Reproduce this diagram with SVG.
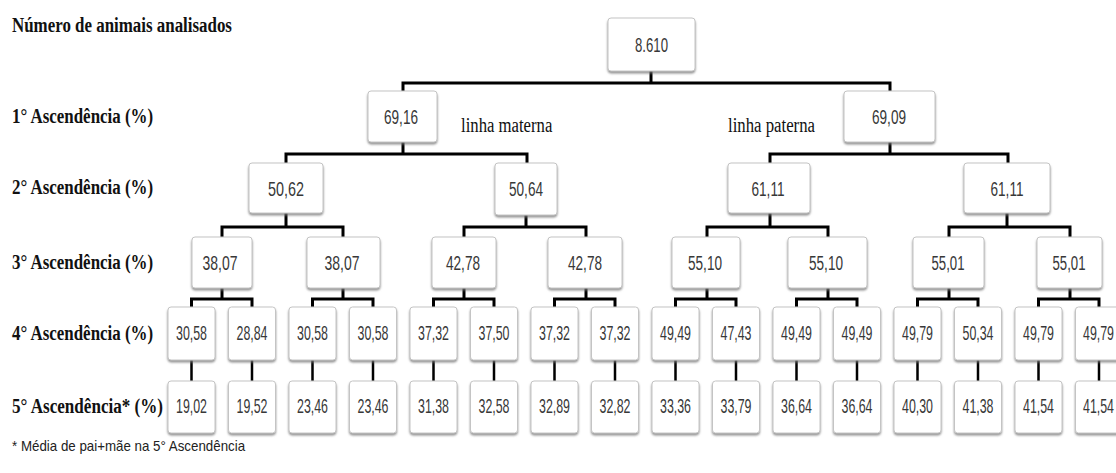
<svg xmlns="http://www.w3.org/2000/svg" width="1116" height="473" viewBox="0 0 1116 473">
<style>
.box{fill:#fff;stroke:#c4c4c4;stroke-width:1;filter:url(#sh)}
.num{font-family:"Liberation Sans",Arial,sans-serif;fill:#383838;text-anchor:middle;font-size:20px}
.lbl{font-family:"Liberation Serif","Times New Roman",serif;font-weight:bold;fill:#111;font-size:21px}
.line{font-family:"Liberation Serif","Times New Roman",serif;fill:#111;font-size:20px}
.note{font-family:"Liberation Sans",Arial,sans-serif;fill:#222;font-size:15px}
.c{stroke:#000;stroke-width:3;fill:none;stroke-linejoin:miter;stroke-linecap:square}
.c5{stroke:#000;stroke-width:2.5;fill:none}
</style>
<defs>
<filter id="sh" x="-20%" y="-20%" width="140%" height="150%">
<feDropShadow dx="0" dy="2" stdDeviation="1.3" flood-color="#777" flood-opacity="0.8"/>
</filter>
</defs>
<rect width="1116" height="473" fill="#fff"/>

<g id="labels">
<text class="lbl" transform="translate(12 32) scale(0.83 1)" textLength="265" lengthAdjust="spacingAndGlyphs">Número de animais analisados</text>
<text class="lbl" transform="translate(12 123) scale(0.83 1)" textLength="170" lengthAdjust="spacingAndGlyphs">1° Ascendência (%)</text>
<text class="lbl" transform="translate(12 194) scale(0.83 1)" textLength="170" lengthAdjust="spacingAndGlyphs">2° Ascendência (%)</text>
<text class="lbl" transform="translate(12 269) scale(0.83 1)" textLength="170" lengthAdjust="spacingAndGlyphs">3° Ascendência (%)</text>
<text class="lbl" transform="translate(12 340) scale(0.83 1)" textLength="170" lengthAdjust="spacingAndGlyphs">4° Ascendência (%)</text>
<text class="lbl" transform="translate(12 413) scale(0.83 1)" textLength="182" lengthAdjust="spacingAndGlyphs">5° Ascendência* (%)</text>
<text class="line" transform="translate(461 132) scale(0.87 1)" textLength="105" lengthAdjust="spacingAndGlyphs">linha materna</text>
<text class="line" transform="translate(728 132) scale(0.87 1)" textLength="100" lengthAdjust="spacingAndGlyphs">linha paterna</text>
<text class="note" transform="translate(12 451) scale(0.9 1)" textLength="259" lengthAdjust="spacingAndGlyphs">* Média de pai+mãe na 5° Ascendência</text>
</g>

<g id="connectors">
<path class="c" d="M651 71V83M403 91V83H890V91"/>
<path class="c" d="M403 142V154M286 163V154H527V163"/>
<path class="c" d="M890 142V154M770 163V154H1008V163"/>
<path class="c" d="M286 213V227M222 237V227H343V237"/>
<path class="c" d="M526 215V227M464 237V227H586V237"/>
<path class="c" d="M770 213V227M707 237V227H828V237"/>
<path class="c" d="M1007 213V227M949 237V227H1070V237"/>
<path class="c" d="M222 288V299M191.5 307V299H252V307"/>
<path class="c" d="M343 288V299M312.5 307V299H373V307"/>
<path class="c" d="M464 288V299M433.5 307V299H494V307"/>
<path class="c" d="M586 288V299M554.5 307V299H615V307"/>
<path class="c" d="M707 288V299M675.5 307V299H736V307"/>
<path class="c" d="M828 288V299M796.5 307V299H857V307"/>
<path class="c" d="M949 288V299M917.5 307V299H978V307"/>
<path class="c" d="M1070 288V299M1038.5 307V299H1099V307"/>
<path class="c5" d="M191.5 360V381M252 360V381M312.5 360V381M373 360V381M433.5 360V381M494 360V381M554.5 360V381M615 360V381M675.5 360V381M736 360V381M796.5 360V381M857 360V381M917.5 360V381M978 360V381M1038.5 360V381M1099 360V381"/>
</g>

<g id="n-root"><rect class="box" x="608" y="18" width="87" height="53" rx="3"/><text class="num" transform="translate(651.5 52) scale(0.66 1)" textLength="50" lengthAdjust="spacingAndGlyphs">8.610</text></g>

<g id="n-1a"><rect class="box" x="368" y="91" width="69" height="51" rx="3"/><text class="num" transform="translate(401 124) scale(0.68 1)" textLength="50" lengthAdjust="spacingAndGlyphs">69,16</text></g>
<g id="n-1b"><rect class="box" x="844" y="91" width="91" height="51" rx="3"/><text class="num" transform="translate(889 124) scale(0.68 1)" textLength="50" lengthAdjust="spacingAndGlyphs">69,09</text></g>

<g id="n-2a"><rect class="box" x="249" y="163" width="74" height="50" rx="3"/><text class="num" transform="translate(286 196) scale(0.72 1)" textLength="50" lengthAdjust="spacingAndGlyphs">50,62</text></g>
<g id="n-2b"><rect class="box" x="495" y="163" width="62" height="52" rx="3"/><text class="num" transform="translate(526 196) scale(0.68 1)" textLength="50" lengthAdjust="spacingAndGlyphs">50,64</text></g>
<g id="n-2c"><rect class="box" x="728" y="163" width="82" height="50" rx="3"/><text class="num" transform="translate(768 196) scale(0.66 1)" textLength="50" lengthAdjust="spacingAndGlyphs">61,11</text></g>
<g id="n-2d"><rect class="box" x="964" y="163" width="86" height="50" rx="3"/><text class="num" transform="translate(1007 196) scale(0.66 1)" textLength="50" lengthAdjust="spacingAndGlyphs">61,11</text></g>

<g id="n-3a"><rect class="box" x="192" y="237" width="60" height="51" rx="3"/><text class="num" transform="translate(220 270) scale(0.7 1)" textLength="50" lengthAdjust="spacingAndGlyphs">38,07</text></g>
<g id="n-3b"><rect class="box" x="307" y="237" width="73" height="51" rx="3"/><text class="num" transform="translate(342 270) scale(0.7 1)" textLength="50" lengthAdjust="spacingAndGlyphs">38,07</text></g>
<g id="n-3c"><rect class="box" x="432" y="237" width="64" height="51" rx="3"/><text class="num" transform="translate(463 270) scale(0.68 1)" textLength="50" lengthAdjust="spacingAndGlyphs">42,78</text></g>
<g id="n-3d"><rect class="box" x="548" y="237" width="74" height="51" rx="3"/><text class="num" transform="translate(585 270) scale(0.68 1)" textLength="50" lengthAdjust="spacingAndGlyphs">42,78</text></g>
<g id="n-3e"><rect class="box" x="672" y="237" width="68" height="51" rx="3"/><text class="num" transform="translate(705 270) scale(0.68 1)" textLength="50" lengthAdjust="spacingAndGlyphs">55,10</text></g>
<g id="n-3f"><rect class="box" x="788" y="237" width="79" height="51" rx="3"/><text class="num" transform="translate(826 270) scale(0.68 1)" textLength="50" lengthAdjust="spacingAndGlyphs">55,10</text></g>
<g id="n-3g"><rect class="box" x="913" y="237" width="71" height="51" rx="3"/><text class="num" transform="translate(948 270) scale(0.66 1)" textLength="50" lengthAdjust="spacingAndGlyphs">55,01</text></g>
<g id="n-3h"><rect class="box" x="1037" y="237" width="65" height="51" rx="3"/><text class="num" transform="translate(1069 270) scale(0.66 1)" textLength="50" lengthAdjust="spacingAndGlyphs">55,01</text></g>

<g id="n-4-1"><rect class="box" x="168" y="307" width="47" height="53" rx="3"/><text class="num" transform="translate(191.5 340) scale(0.62 1)" textLength="50" lengthAdjust="spacingAndGlyphs">30,58</text></g>
<g id="n-4-2"><rect class="box" x="228.5" y="307" width="47" height="53" rx="3"/><text class="num" transform="translate(252 340) scale(0.62 1)" textLength="50" lengthAdjust="spacingAndGlyphs">28,84</text></g>
<g id="n-4-3"><rect class="box" x="289" y="307" width="47" height="53" rx="3"/><text class="num" transform="translate(312.5 340) scale(0.62 1)" textLength="50" lengthAdjust="spacingAndGlyphs">30,58</text></g>
<g id="n-4-4"><rect class="box" x="349.5" y="307" width="47" height="53" rx="3"/><text class="num" transform="translate(373 340) scale(0.62 1)" textLength="50" lengthAdjust="spacingAndGlyphs">30,58</text></g>
<g id="n-4-5"><rect class="box" x="410" y="307" width="47" height="53" rx="3"/><text class="num" transform="translate(433.5 340) scale(0.62 1)" textLength="50" lengthAdjust="spacingAndGlyphs">37,32</text></g>
<g id="n-4-6"><rect class="box" x="470.5" y="307" width="47" height="53" rx="3"/><text class="num" transform="translate(494 340) scale(0.62 1)" textLength="50" lengthAdjust="spacingAndGlyphs">37,50</text></g>
<g id="n-4-7"><rect class="box" x="531" y="307" width="47" height="53" rx="3"/><text class="num" transform="translate(554.5 340) scale(0.62 1)" textLength="50" lengthAdjust="spacingAndGlyphs">37,32</text></g>
<g id="n-4-8"><rect class="box" x="591.5" y="307" width="47" height="53" rx="3"/><text class="num" transform="translate(615 340) scale(0.62 1)" textLength="50" lengthAdjust="spacingAndGlyphs">37,32</text></g>
<g id="n-4-9"><rect class="box" x="652" y="307" width="47" height="53" rx="3"/><text class="num" transform="translate(675.5 340) scale(0.62 1)" textLength="50" lengthAdjust="spacingAndGlyphs">49,49</text></g>
<g id="n-4-10"><rect class="box" x="712.5" y="307" width="47" height="53" rx="3"/><text class="num" transform="translate(736 340) scale(0.62 1)" textLength="50" lengthAdjust="spacingAndGlyphs">47,43</text></g>
<g id="n-4-11"><rect class="box" x="773" y="307" width="47" height="53" rx="3"/><text class="num" transform="translate(796.5 340) scale(0.62 1)" textLength="50" lengthAdjust="spacingAndGlyphs">49,49</text></g>
<g id="n-4-12"><rect class="box" x="833.5" y="307" width="47" height="53" rx="3"/><text class="num" transform="translate(857 340) scale(0.62 1)" textLength="50" lengthAdjust="spacingAndGlyphs">49,49</text></g>
<g id="n-4-13"><rect class="box" x="894" y="307" width="47" height="53" rx="3"/><text class="num" transform="translate(917.5 340) scale(0.62 1)" textLength="50" lengthAdjust="spacingAndGlyphs">49,79</text></g>
<g id="n-4-14"><rect class="box" x="954.5" y="307" width="47" height="53" rx="3"/><text class="num" transform="translate(978 340) scale(0.62 1)" textLength="50" lengthAdjust="spacingAndGlyphs">50,34</text></g>
<g id="n-4-15"><rect class="box" x="1015" y="307" width="47" height="53" rx="3"/><text class="num" transform="translate(1038.5 340) scale(0.62 1)" textLength="50" lengthAdjust="spacingAndGlyphs">49,79</text></g>
<g id="n-4-16"><rect class="box" x="1075.5" y="307" width="47" height="53" rx="3"/><text class="num" transform="translate(1098.5 340) scale(0.62 1)" textLength="50" lengthAdjust="spacingAndGlyphs">49,79</text></g>

<g id="n-5-1"><rect class="box" x="168" y="381" width="47" height="52" rx="3"/><text class="num" transform="translate(191.5 413) scale(0.62 1)" textLength="50" lengthAdjust="spacingAndGlyphs">19,02</text></g>
<g id="n-5-2"><rect class="box" x="228.5" y="381" width="47" height="52" rx="3"/><text class="num" transform="translate(252 413) scale(0.62 1)" textLength="50" lengthAdjust="spacingAndGlyphs">19,52</text></g>
<g id="n-5-3"><rect class="box" x="289" y="381" width="47" height="52" rx="3"/><text class="num" transform="translate(312.5 413) scale(0.62 1)" textLength="50" lengthAdjust="spacingAndGlyphs">23,46</text></g>
<g id="n-5-4"><rect class="box" x="349.5" y="381" width="47" height="52" rx="3"/><text class="num" transform="translate(373 413) scale(0.62 1)" textLength="50" lengthAdjust="spacingAndGlyphs">23,46</text></g>
<g id="n-5-5"><rect class="box" x="410" y="381" width="47" height="52" rx="3"/><text class="num" transform="translate(433.5 413) scale(0.62 1)" textLength="50" lengthAdjust="spacingAndGlyphs">31,38</text></g>
<g id="n-5-6"><rect class="box" x="470.5" y="381" width="47" height="52" rx="3"/><text class="num" transform="translate(494 413) scale(0.62 1)" textLength="50" lengthAdjust="spacingAndGlyphs">32,58</text></g>
<g id="n-5-7"><rect class="box" x="531" y="381" width="47" height="52" rx="3"/><text class="num" transform="translate(554.5 413) scale(0.62 1)" textLength="50" lengthAdjust="spacingAndGlyphs">32,89</text></g>
<g id="n-5-8"><rect class="box" x="591.5" y="381" width="47" height="52" rx="3"/><text class="num" transform="translate(615 413) scale(0.62 1)" textLength="50" lengthAdjust="spacingAndGlyphs">32,82</text></g>
<g id="n-5-9"><rect class="box" x="652" y="381" width="47" height="52" rx="3"/><text class="num" transform="translate(675.5 413) scale(0.62 1)" textLength="50" lengthAdjust="spacingAndGlyphs">33,36</text></g>
<g id="n-5-10"><rect class="box" x="712.5" y="381" width="47" height="52" rx="3"/><text class="num" transform="translate(736 413) scale(0.62 1)" textLength="50" lengthAdjust="spacingAndGlyphs">33,79</text></g>
<g id="n-5-11"><rect class="box" x="773" y="381" width="47" height="52" rx="3"/><text class="num" transform="translate(796.5 413) scale(0.62 1)" textLength="50" lengthAdjust="spacingAndGlyphs">36,64</text></g>
<g id="n-5-12"><rect class="box" x="833.5" y="381" width="47" height="52" rx="3"/><text class="num" transform="translate(857 413) scale(0.62 1)" textLength="50" lengthAdjust="spacingAndGlyphs">36,64</text></g>
<g id="n-5-13"><rect class="box" x="894" y="381" width="47" height="52" rx="3"/><text class="num" transform="translate(917.5 413) scale(0.62 1)" textLength="50" lengthAdjust="spacingAndGlyphs">40,30</text></g>
<g id="n-5-14"><rect class="box" x="954.5" y="381" width="47" height="52" rx="3"/><text class="num" transform="translate(978 413) scale(0.62 1)" textLength="50" lengthAdjust="spacingAndGlyphs">41,38</text></g>
<g id="n-5-15"><rect class="box" x="1015" y="381" width="47" height="52" rx="3"/><text class="num" transform="translate(1038.5 413) scale(0.62 1)" textLength="50" lengthAdjust="spacingAndGlyphs">41,54</text></g>
<g id="n-5-16"><rect class="box" x="1075.5" y="381" width="47" height="52" rx="3"/><text class="num" transform="translate(1098.5 413) scale(0.62 1)" textLength="50" lengthAdjust="spacingAndGlyphs">41,54</text></g>
</svg>
